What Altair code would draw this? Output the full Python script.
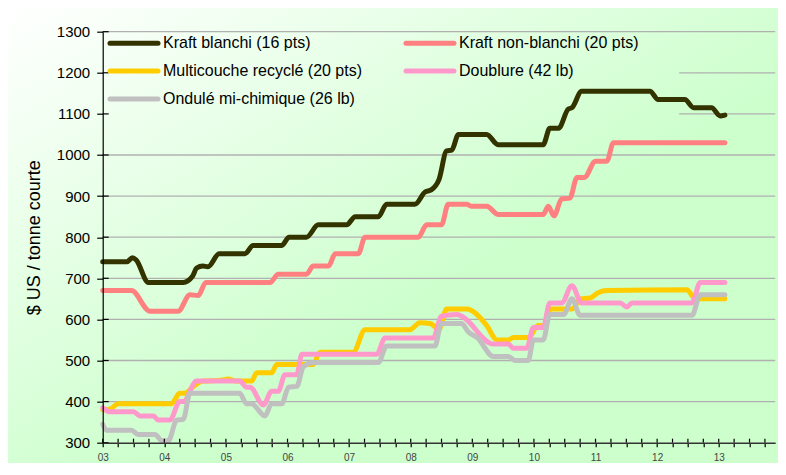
import altair as alt
import pandas as pd

# ---------------- data (month index: 0 = Jan 2003) ----------------
series_names = [
    "Kraft blanchi (16 pts)",
    "Kraft non-blanchi (20 pts)",
    "Multicouche recyclé (20 pts)",
    "Doublure (42 lb)",
    "Ondulé mi-chimique (26 lb)",
]
series_colors = ["#333300", "#ff8080", "#ffcc00", "#ff99cc", "#c0c0c0"]

kb_month = [0, 4.7, 5.8, 6.5, 8.9, 15.7, 17.5, 18.3, 19.5, 20.5, 22.7, 27.7, 29.3, 34.9, 36.3,
            39.7, 42, 47.5, 49.2, 53.7, 55.3, 60.8, 62.8, 64, 65.5, 67, 68, 69.3, 74.8, 77,
            85.8, 87.1, 88.8, 90.7, 91.4, 93.3, 106.6, 108.2, 113.4, 115.1, 118.6, 120.3, 121.2]
kb_value = [740, 740, 750, 745, 690, 690, 705, 725, 730, 728, 760, 760, 780, 780, 800,
            800, 830, 830, 850, 850, 880, 880, 910, 915, 940, 1010, 1012, 1050, 1050, 1025,
            1025, 1065, 1065, 1112, 1115, 1155, 1155, 1135, 1135, 1115, 1115, 1095, 1097]

knb_month = [0, 5.6, 9.2, 14.7, 17, 18.6, 20.1, 32.6, 34.2, 39.7, 41, 44, 45.3, 49.8, 51.1,
             61.5, 63.1, 66, 67.3, 70.9, 71.9, 74.8, 77.1, 85.8, 86.8, 87.9, 89.4, 91, 92.4,
             93.8, 96, 98.2, 99.5, 121.2]
knb_value = [670, 670, 620, 620, 660, 658, 690, 690, 710, 710, 730, 730, 760, 760, 800,
             800, 830, 830, 880, 880, 875, 875, 855, 855, 875, 852, 893, 895, 945,
             945, 985, 985, 1030, 1030]

mr_month = [0, 1.5, 3, 13.4, 15, 16, 17.5, 19.5, 23, 24.5, 26, 29, 30, 32.9, 33.9, 41, 42.3,
            48.8, 51.1, 59.8, 61.8, 63.8, 65.5, 67, 70.9, 72.9, 74.8, 76.8, 79, 80, 83, 84.8,
            86.2, 87.1, 91.5, 93, 95, 96.5, 98.3, 113.8, 115.4, 121.2]
mr_value = [380, 382, 395, 395, 420, 420, 435, 450, 452, 455, 450, 450, 470, 470, 490, 490, 520,
            520, 575, 575, 592, 590, 576, 625, 625, 612, 585, 550, 550, 556, 556, 585,
            585, 625, 625, 650, 652, 665, 670, 672, 650, 650]

db_month = [0, 1.4, 6, 7.3, 9.9, 10.8, 13.1, 15, 15.7, 18.3, 26.7, 28, 28.7, 31.3, 32.9, 34.2,
            35.5, 37.8, 38.8, 53.4, 55, 64.4, 66, 69, 69.9, 76.1, 79, 80, 82.6, 83.9, 85.8,
            87.1, 89.4, 91.4, 93.3, 100.8, 102.1, 103.1, 114.8, 116.4, 121.2]
db_value = [385, 375, 375, 365, 365, 355, 355, 400, 400, 450, 450, 435, 435, 392, 425, 425,
            465, 465, 515, 515, 555, 555, 608, 612, 608, 540, 540, 530, 530, 580, 580,
            640, 640, 682, 640, 640, 630, 640, 640, 690, 690]

om_month = [0, 0.8, 5.6, 6.9, 10.2, 11.5, 12.8, 14.4, 15.7, 17, 26.7, 28, 29, 31.6, 32.9, 34.9,
            36.2, 37.8, 39.1, 41, 53.7, 55.3, 64.7, 66, 69.9, 71.2, 73, 76.1, 79, 80.3, 82.9,
            83.9, 85.8, 87.1, 89.8, 91.4, 93, 114.8, 116.4, 121.2]
om_value = [345, 330, 330, 320, 320, 305, 305, 355, 357, 420, 420, 395, 395, 365, 395, 395,
            435, 437, 485, 495, 495, 535, 535, 590, 590, 570, 555, 510, 510, 500, 500,
            550, 550, 612, 612, 650, 610, 610, 660, 660]

year_labels = ["03", "04", "05", "06", "07", "08", "09", "10", "11", "12", "13"]
y_ticks = [300, 400, 500, 600, 700, 800, 900, 1000, 1100, 1200, 1300]
x_ticks = list(range(0, 130, 3))

series_months = [kb_month, knb_month, mr_month, db_month, om_month]
series_values = [kb_value, knb_value, mr_value, db_value, om_value]

# ---------------- layout ----------------
W, H = 672.5, 411
FONT = "Liberation Sans"

label_expr = "datum.value % 12 == 0 ? [" + ",".join("'%s'" % l for l in year_labels) + "][datum.value / 12] : ''"

x_scale = alt.Scale(domain=[0, 131], nice=False, zero=False)
y_scale = alt.Scale(domain=[300, 1300], nice=False, zero=False)

x_axis = alt.Axis(values=x_ticks, labelExpr=label_expr, title=None, grid=False, zindex=1,
                  domainColor="#333333", domainWidth=1.5, tickColor="#000000", tickSize=4,
                  tickWidth=1.2, labelFontSize=10, labelColor="#444444", labelPadding=6,
                  labelFlush=False, labelOverlap=False, labelFont=FONT)
y_axis = alt.Axis(values=y_ticks, format="d", title="$ US / tonne courte", grid=False, zindex=1,
                  domainColor="#000000", domainWidth=1.2, tickColor="#000000", tickSize=6,
                  tickWidth=1.2, labelFontSize=15, labelColor="#000000", labelPadding=7,
                  labelFont=FONT, titleFont=FONT, titleFontSize=18, titleFontWeight="normal",
                  titleColor="#000000", titleX=-68, titleY=H / 2, titleAngle=270,
                  titleAlign="center", titleBaseline="middle")

# background panel
bg = alt.Chart(pd.DataFrame({"a": [0]})).mark_rect(
    color=alt.LinearGradient(
        gradient="linear",
        stops=[alt.GradientStop(color="#ffffff", offset=0),
               alt.GradientStop(color="#ccffcc", offset=0.6),
               alt.GradientStop(color="#ccffcc", offset=1)],
        x1=0, y1=0, x2=1, y2=1)
).encode(x=alt.value(-95), x2=alt.value(W + 3), y=alt.value(-24), y2=alt.value(H + 20))

# gridlines (hidden behind the legend box for 1100 / 1200)
grid_vals = [v for v in y_ticks if v > 300]
grid_df = pd.DataFrame({
    "value": grid_vals,
    "start": [112.3 if v in (1100, 1200) else 0 for v in grid_vals],
    "end": [131] * len(grid_vals),
})
grid = alt.Chart(grid_df).mark_rule(color="#b0b0b0", strokeWidth=1.3).encode(
    x=alt.X("start:Q", scale=x_scale, axis=x_axis),
    x2="end:Q",
    y=alt.Y("value:Q", scale=y_scale, axis=y_axis),
)

# inward halves of the crossing ticks
xt = alt.Chart(pd.DataFrame({"t": x_ticks})).mark_rule(color="#000000", strokeWidth=1.2).encode(
    x=alt.X("t:Q", scale=x_scale, axis=x_axis), y=alt.value(H), y2=alt.value(H - 4))
yt = alt.Chart(pd.DataFrame({"v": y_ticks})).mark_rule(color="#000000", strokeWidth=1.2).encode(
    y=alt.Y("v:Q", scale=y_scale, axis=y_axis), x=alt.value(0), x2=alt.value(6))

layers = [bg, grid]

for name, col, ms, vs in zip(series_names, series_colors, series_months, series_values):
    df = pd.DataFrame({"month": ms, "value": vs, "serie": name})
    layers.append(
        alt.Chart(df).mark_line(color=col, strokeWidth=5, interpolate="monotone",
                                strokeCap="round", strokeJoin="round").encode(
            x=alt.X("month:Q", scale=x_scale, axis=x_axis),
            y=alt.Y("value:Q", scale=y_scale, axis=y_axis),
        )
    )

layers += [xt, yt]

# legend (two columns, Excel style)
leg_cols = [5.3, 301.3]
leg_rows = [11.6, 39.4, 67.4]
for i, (name, col) in enumerate(zip(series_names, series_colors)):
    cx = leg_cols[i % 2]
    cy = leg_rows[i // 2]
    one = pd.DataFrame({"n": [name]})
    layers.append(alt.Chart(one).mark_rule(color=col, strokeWidth=5, strokeCap="round").encode(
        x=alt.value(cx + 2), x2=alt.value(cx + 50), y=alt.value(cy)))
    layers.append(alt.Chart(one).mark_text(align="left", baseline="middle", fontSize=16,
                                           font=FONT, color="#000000").encode(
        x=alt.value(cx + 55), y=alt.value(cy), text="n:N"))

chart = alt.layer(*layers).properties(
    width=W, height=H,
    autosize="none",
    padding={"left": 94.7, "top": 23.7, "right": 2.8, "bottom": 20},
    background="#ccffcc",
).configure_view(stroke=None)

chart.save("out.html", embed_options={"renderer": "svg", "actions": False})
